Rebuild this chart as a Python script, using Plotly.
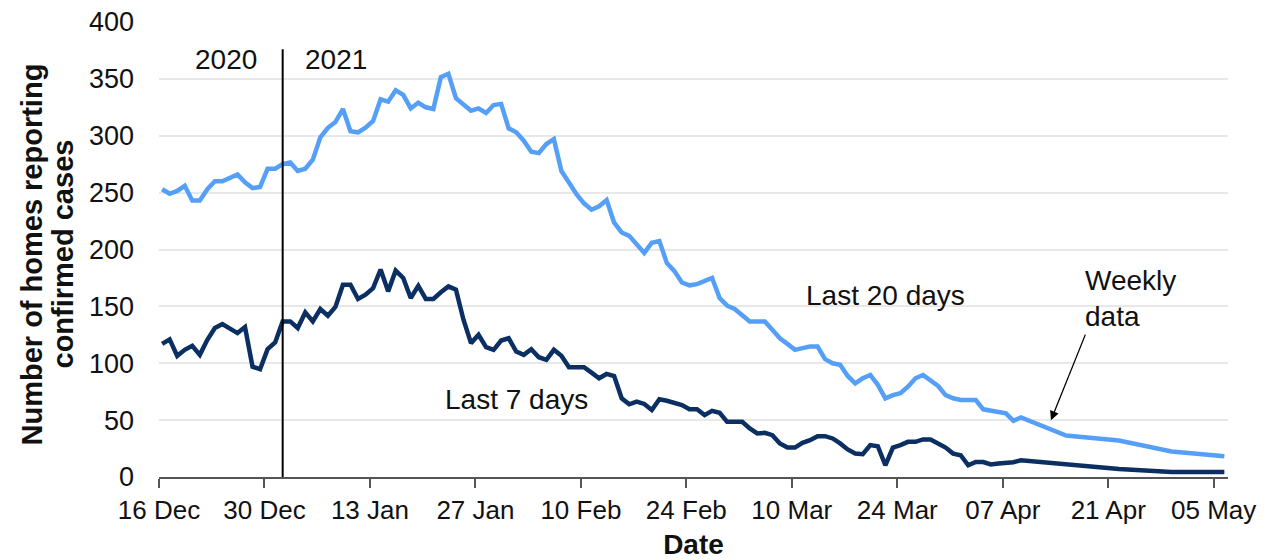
import pandas as pd
import plotly.graph_objects as go

# ---------------- data ----------------
start_date = "2020-12-16"
weekly_dates = ["2021-04-15", "2021-04-22", "2021-04-29", "2021-05-06"]
year_boundary = "2021-01-01"

last20_daily = [
    253, 249, 251.5, 256, 243, 243, 253, 260, 260, 263,
    266, 259, 254, 255, 271, 271, 275, 276.5, 269, 271,
    279, 298.6, 307, 312, 323.5, 304, 303, 307, 313, 332,
    330, 340, 336, 324, 329, 325, 323.5, 351.5, 354.5, 333,
    327, 322, 324, 320, 327, 328, 306.5, 303, 295.6, 286,
    284.7, 292.7, 297, 269, 259, 248.6, 240.6, 235, 238, 243.5,
    223.6, 215, 212, 204.4, 197, 206, 207.4, 188, 181, 171,
    168.5, 169.5, 172, 175, 157.4, 150.6, 147.7, 141.8, 136.8, 136.8,
    136.8, 129.4, 122, 117, 111.8, 113.3, 114.7, 114.7, 103.6, 100,
    98.6, 88.8, 82.4, 86.8, 89.7, 81, 69.2, 72, 73.6, 79.4,
    86.8, 89.7, 84.7, 80, 72, 69.2, 67.7, 67.7, 67.7, 59.5,
    58.5, 57.5, 56, 49.4, 52.4,
]
last20_weekly = [36.4, 32.1, 22.5, 18.2]

last7_daily = [
    117, 121, 106.5, 111.8, 115.3, 107.4, 120.6, 131, 134.5, 130,
    126.5, 131.8, 97, 94.8, 112.4, 118.2, 136.8, 136.8, 131, 144.7,
    136.8, 147.7, 141.8, 149.5, 169, 169, 156.5, 160.3, 166, 182.4,
    163.2, 181.5, 175, 157.4, 168, 156.5, 156.5, 162.4, 167.6, 164.7,
    138.3, 117.7, 125, 114.2, 111.8, 120, 122, 110.3, 107.4, 112.4,
    105.3, 103, 111.8, 106.5, 96.5, 96.5, 96.5, 91.8, 86.8, 90.6,
    88.8, 69.2, 63.9, 66.2, 64.2, 58.9, 68.3, 67, 65.3, 63.3,
    59.5, 59.5, 54.4, 58.2, 56.5, 48.5, 48.5, 48.5, 42.7, 38.3,
    38.8, 36.8, 29.5, 25.9, 25.9, 30, 32.4, 35.9, 35.9, 33.9,
    29.5, 24.2, 20.6, 20, 28, 27, 10.3, 25.9, 28, 30.9,
    30.9, 33, 33, 28.9, 25.9, 20.6, 19.1, 10.3, 13.2, 13.2,
    11, 11.8, 12.4, 13, 14.7,
]
last7_weekly = [11, 7, 4.4, 4.4]

y_ticks = [0, 50, 100, 150, 200, 250, 300, 350, 400]
y_title_lines = ["Number of homes reporting", "confirmed cases"]

# ---------------- build ----------------
FONT = "Arial, 'Liberation Sans', sans-serif"
LIGHT = "#559ff7"
DARK = "#0b2f62"

pt_offset = pd.Timedelta(hours=10)  # points sit slightly right of day ticks
day0 = pd.Timestamp(start_date)


def day(n):
    return day0 + pd.Timedelta(days=n)


daily_dates = pd.date_range(start_date, periods=len(last20_daily), freq="D")
x_all = [d + pt_offset for d in list(daily_dates) + list(pd.to_datetime(weekly_dates))]

fig = go.Figure()
fig.add_trace(go.Scatter(x=x_all, y=last20_daily + last20_weekly, mode="lines",
                         line=dict(color=LIGHT, width=4.5), name="Last 20 days",
                         showlegend=False))
fig.add_trace(go.Scatter(x=x_all, y=last7_daily + last7_weekly, mode="lines",
                         line=dict(color=DARK, width=4.5), name="Last 7 days",
                         showlegend=False))

yb = pd.Timestamp(year_boundary) + pt_offset
fig.add_shape(type="line", x0=yb, x1=yb, y0=0, y1=376, xref="x", yref="y",
              line=dict(color="black", width=2))

txt = dict(family=FONT, size=28, color="#111")
anns = [
    dict(x=yb, y=367, text="2020", xanchor="right", yanchor="middle", xshift=-24),
    dict(x=yb, y=367, text="2021", xanchor="left", yanchor="middle", xshift=20),
    dict(x=day(96.45), y=159.4, text="Last 20 days", xanchor="center", yanchor="middle"),
    dict(x=day(47.4), y=68.5, text="Last 7 days", xanchor="center", yanchor="middle"),
    dict(x=day(122.65), y=157, text="Weekly<br>data", xanchor="left", yanchor="middle",
         align="left"),
]
for a in anns:
    fig.add_annotation(**a, showarrow=False, font=txt, xref="x", yref="y")

fig.add_annotation(x=day(118.4), y=50, xref="x", yref="y", text="", showarrow=True,
                   ax=35, ay=-87, arrowhead=2, arrowsize=1.4, arrowwidth=1.3,
                   arrowcolor="black")

# y-axis title as two rotated lines (tighter line spacing than a <br> title)
title_font = dict(family=FONT, size=29, weight="bold", color="#111")
for line_text, shift in zip(y_title_lines, [-128, -97]):
    fig.add_annotation(x=0, y=0.5, xref="paper", yref="paper", text=line_text,
                       textangle=-90, showarrow=False, xanchor="center",
                       yanchor="middle", xshift=shift, yshift=-5, font=title_font)

fig.update_layout(
    width=1271, height=560,
    margin=dict(l=159, r=43, t=22, b=83),
    paper_bgcolor="white", plot_bgcolor="white",
    font=dict(family=FONT, size=27, color="#111"),
    showlegend=False,
)
fig.update_xaxes(
    type="date", range=[day(0), day(141.9)], automargin=False,
    tick0=start_date, dtick=14 * 86400000, tickformat="%d %b",
    ticks="outside", ticklen=9, tickwidth=1.5, tickcolor="#555",
    showline=True, linecolor="#555", linewidth=1.5,
    showgrid=False, zeroline=False,
    tickfont=dict(family=FONT, size=26, color="#111"),
    title=dict(text="Date", font=dict(family=FONT, size=28, weight="bold", color="#111"),
               standoff=16),
)
fig.update_yaxes(
    range=[0, 400], tickvals=y_ticks, automargin=False,
    showgrid=True, gridcolor="#e8e8e8", gridwidth=1.5,
    zeroline=False, showline=False, ticks="",
    ticklabelstandoff=24,
    tickfont=dict(family=FONT, size=27, color="#111"),
)

fig.write_html("out.html", config={"displayModeBar": False},
               post_script="document.body.style.margin='0px';")
